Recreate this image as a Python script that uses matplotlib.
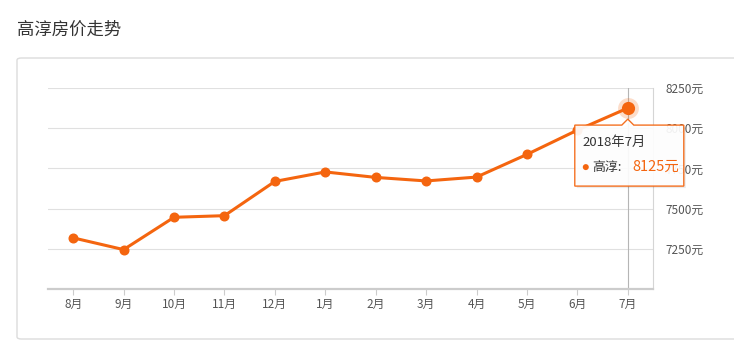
import matplotlib
matplotlib.use('Agg')
import matplotlib.pyplot as plt
from matplotlib.patches import FancyBboxPatch, Polygon, Circle

plt.rcParams['font.family'] = ['Noto Sans CJK SC', 'DejaVu Sans']

# Data
months = ['8月', '9月', '10月', '11月', '12月', '1月', '2月', '3月', '4月', '5月', '6月', '7月']
prices = [7318, 7245, 7446, 7456, 7669, 7728, 7694, 7672, 7696, 7837, 7988, 8125]
y_ticks = [7250, 7500, 7750, 8000, 8250]
series_name = '高淳'
tooltip_title = '2018年7月'

ORANGE = '#f4650f'
W, H = 734, 361


def fx(x):
    return x / W


def fy(y):
    return 1 - y / H


fig = plt.figure(figsize=(W / 100, H / 100), dpi=100)
fig.patch.set_facecolor('white')

# Panel frame
panel = FancyBboxPatch((fx(17), fy(339)), fx(760) - fx(17), fy(58) - fy(339),
                       boxstyle='round,pad=0,rounding_size=0.006',
                       transform=fig.transFigure, facecolor='white',
                       edgecolor='#dcdcdc', linewidth=1.0, zorder=-5)
fig.patches.append(panel)

fig.text(fx(17), fy(30), '高淳房价走势', fontsize=12.5, color='#333333',
         ha='left', va='center')

# Plot area
ax = fig.add_axes([fx(48), fy(289), fx(653) - fx(48), fy(88) - fy(289)])
ax.set_zorder(1)
ax.set_facecolor('none')
x = list(range(len(months)))
ax.set_xlim(-0.5, len(months) - 0.5)
ax.set_ylim(7000, 8250)

for v in y_ticks:
    ax.axhline(v, color='#e0e0e0', linewidth=0.8, zorder=1)

ax.axvline(x[-1], color='#b5b5b5', linewidth=0.8, zorder=1)

ax.plot(x, prices, '-o', color=ORANGE, linewidth=2.2, markersize=6.2, zorder=3)

# highlighted last point
ax.plot(x[-1], prices[-1], 'o', color=ORANGE, alpha=0.22, markersize=15, zorder=2,
        markeredgewidth=0)
ax.plot(x[-1], prices[-1], 'o', color=ORANGE, markersize=9.5, zorder=4,
        markeredgewidth=0)

for s in ['left', 'top']:
    ax.spines[s].set_visible(False)
ax.spines['right'].set_color('#d5d5d5')
ax.spines['right'].set_linewidth(0.8)
ax.spines['bottom'].set_color('#cccccc')
ax.spines['bottom'].set_linewidth(1.6)

ax.set_xticks(x)
ax.set_xticklabels(months)
ax.tick_params(axis='x', length=4, color='#cccccc', labelsize=8.5,
               labelcolor='#555555', pad=2.5)
ax.yaxis.tick_right()
ax.set_yticks(y_ticks)
ax.set_yticklabels([f'{v}元' for v in y_ticks])
ax.tick_params(axis='y', length=0, labelsize=8.5, labelcolor='#555555', pad=9)

# Tooltip anchored on the last data point (display pixels)
px_x, px_y = ax.transData.transform((x[-1], prices[-1]))
top = px_y - 17
bottom = top - 61
left = px_x - 53
right = px_x + 56
shape = [(left, bottom), (left, top), (px_x - 6, top), (px_x, top + 6),
         (px_x + 6, top), (right, top), (right, bottom)]
shadow = Polygon([(a + 2, b - 2) for a, b in shape], closed=True, transform=None,
                 facecolor='#000000', alpha=0.08, edgecolor='none', zorder=9)
tip = Polygon(shape, closed=True, transform=None, facecolor='white', alpha=0.92,
              edgecolor=ORANGE, linewidth=1.0, zorder=10)
fig.patches.append(shadow)
fig.patches.append(tip)

inv = fig.transFigure.inverted()
t1 = inv.transform((left + 8, top - 17))
fig.text(t1[0], t1[1], tooltip_title, fontsize=9.5, color='#333333',
         ha='left', va='center', zorder=11)
d = (left + 11, top - 42)
fig.patches.append(Circle(d, 3, transform=None, facecolor=ORANGE,
                          edgecolor='none', zorder=11))
t2 = inv.transform((left + 17, top - 42))
fig.text(t2[0], t2[1], f'{series_name}:', fontsize=9.3, color='#333333',
         ha='left', va='center', zorder=11)
t3 = inv.transform((left + 58, top - 42))
fig.text(t3[0], t3[1], f'{prices[-1]}元', fontsize=10.5, color=ORANGE,
         ha='left', va='center', zorder=11)

fig.savefig('out.png', dpi=100)
